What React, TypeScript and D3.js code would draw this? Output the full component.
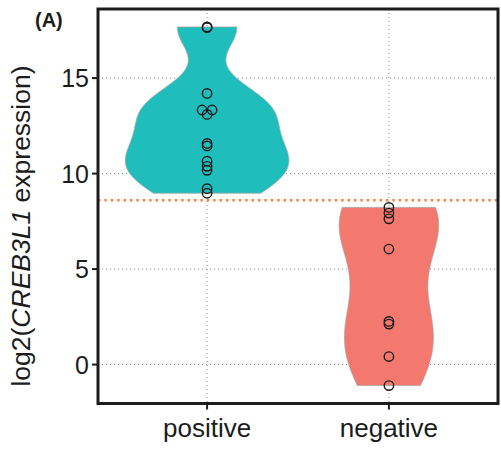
import React from 'react';
import * as d3 from 'd3';

const categories = ['positive', 'negative'];
const positiveValues = [17.68, 17.64, 14.2, 13.33, 13.33, 13.1, 11.58, 11.45, 10.65, 10.38, 10.17, 9.21, 8.97];
const negativeValues = [8.23, 7.93, 7.63, 6.05, 2.26, 2.12, 0.42, -1.1];
const cutoff = 8.6;
const yTicks = [0, 5, 10, 15];
const fills = ['#20BDBD', '#F3786D'];

const width = 501;
const height = 450;
const panel = { left: 98, right: 498, top: 9, bottom: 403.5 };
const font = '"Liberation Sans", Arial, Helvetica, sans-serif';
const ink = '#1c1c1c';

// gaussian kde like R density(), bw = nrd0, trimmed to data range
function kde(values: number[]) {
  const n = values.length;
  const sd = d3.deviation(values) as number;
  const sorted = values.slice().sort(d3.ascending);
  const iqr = (d3.quantileSorted(sorted, 0.75) as number) - (d3.quantileSorted(sorted, 0.25) as number);
  const bw = 0.9 * Math.min(sd, iqr / 1.34) * Math.pow(n, -0.2);
  const lo = sorted[0];
  const hi = sorted[n - 1];
  const grid = d3.range(512).map((i) => lo + ((hi - lo) * i) / 511);
  return grid.map((v) => {
    const s = d3.sum(values, (x) => Math.exp(-0.5 * ((v - x) / bw) ** 2));
    return { v, d: s / (n * bw * Math.sqrt(2 * Math.PI)) };
  });
}

// spread tied values side by side
function swarm(values: number[]) {
  const counts = d3.rollup(values, (g) => g.length, (v) => v);
  const seen = new Map<number, number>();
  return values.map((v) => {
    const k = counts.get(v) as number;
    const i = seen.get(v) || 0;
    seen.set(v, i + 1);
    return { v, slot: i - (k - 1) / 2 };
  });
}

export default function App() {
  const groups = [positiveValues, negativeValues];
  const all = groups.flat();
  const [mn, mx] = d3.extent(all) as [number, number];
  const pad = (mx - mn) * 0.05;

  const y = d3.scaleLinear().domain([mn - pad, mx + pad]).range([panel.bottom, panel.top]);
  const x = d3.scalePoint().domain(categories).range([panel.left, panel.right]).padding(0.6);
  const step = x.step();

  const dens = groups.map(kde);
  const maxD = d3.max(dens.flat(), (p) => p.d) as number;
  const halfW = d3.scaleLinear().domain([0, maxD]).range([0, (0.9 * step) / 2]);

  const violins = dens.map((pts, i) => {
    const cx = x(categories[i]) as number;
    return d3
      .area<{ v: number; d: number }>()
      .y((p) => y(p.v))
      .x0((p) => cx - halfW(p.d))
      .x1((p) => cx + halfW(p.d))(pts) as string;
  });

  return (
    <svg width={width} height={height} style={{ position: 'absolute', left: 0, top: 0, background: '#fff' }} fontFamily={font}>
      {/* grid */}
      {yTicks.map((t) => (
        <line key={'gy' + t} x1={panel.left} x2={panel.right} y1={y(t)} y2={y(t)} stroke="#8a8a8a" strokeWidth={1} strokeDasharray="1,3" />
      ))}
      {categories.map((c) => (
        <line key={'gx' + c} x1={x(c)} x2={x(c)} y1={panel.top} y2={panel.bottom} stroke="#8a8a8a" strokeWidth={1} strokeDasharray="1,3" />
      ))}

      {/* violins */}
      {violins.map((d, i) => (
        <path key={'v' + i} d={d} fill={fills[i]} stroke="#a6a6a6" strokeWidth={0.8} />
      ))}

      <line x1={panel.left} x2={panel.right} y1={y(cutoff)} y2={y(cutoff)} stroke="#F4823A" strokeWidth={2.5} strokeDasharray="2.4,4" />

      {/* points */}
      {groups.map((vals, i) =>
        swarm(vals).map((p, j) => (
          <circle
            key={'p' + i + '-' + j}
            cx={(x(categories[i]) as number) + p.slot * 10}
            cy={y(p.v)}
            r={4.7}
            fill="none"
            stroke={ink}
            strokeWidth={1.4}
          />
        ))
      )}

      {/* panel border */}
      <rect x={panel.left} y={panel.top} width={panel.right - panel.left} height={panel.bottom - panel.top} fill="none" stroke={ink} strokeWidth={3} />

      {/* y axis */}
      {yTicks.map((t) => (
        <g key={'ty' + t}>
          <line x1={panel.left - 6} x2={panel.left} y1={y(t)} y2={y(t)} stroke={ink} strokeWidth={2} />
          <text x={panel.left - 9} y={y(t)} dy="0.36em" textAnchor="end" fontSize={25} fill={ink}>
            {t}
          </text>
        </g>
      ))}

      {/* x axis */}
      {categories.map((c) => (
        <g key={'tx' + c}>
          <line x1={x(c)} x2={x(c)} y1={panel.bottom} y2={panel.bottom + 6} stroke={ink} strokeWidth={2} />
          <text x={x(c)} y={437} textAnchor="middle" fontSize={26} fill={ink}>
            {c}
          </text>
        </g>
      ))}

      <text transform="translate(30,226) rotate(-90)" textAnchor="middle" fontSize={26.5} fill={ink}>
        log2(<tspan fontStyle="italic">CREB3L1</tspan> expression)
      </text>

      <text x={35} y={27} fontSize={20} fontWeight="bold" fill={ink}>
        (A)
      </text>
    </svg>
  );
}
